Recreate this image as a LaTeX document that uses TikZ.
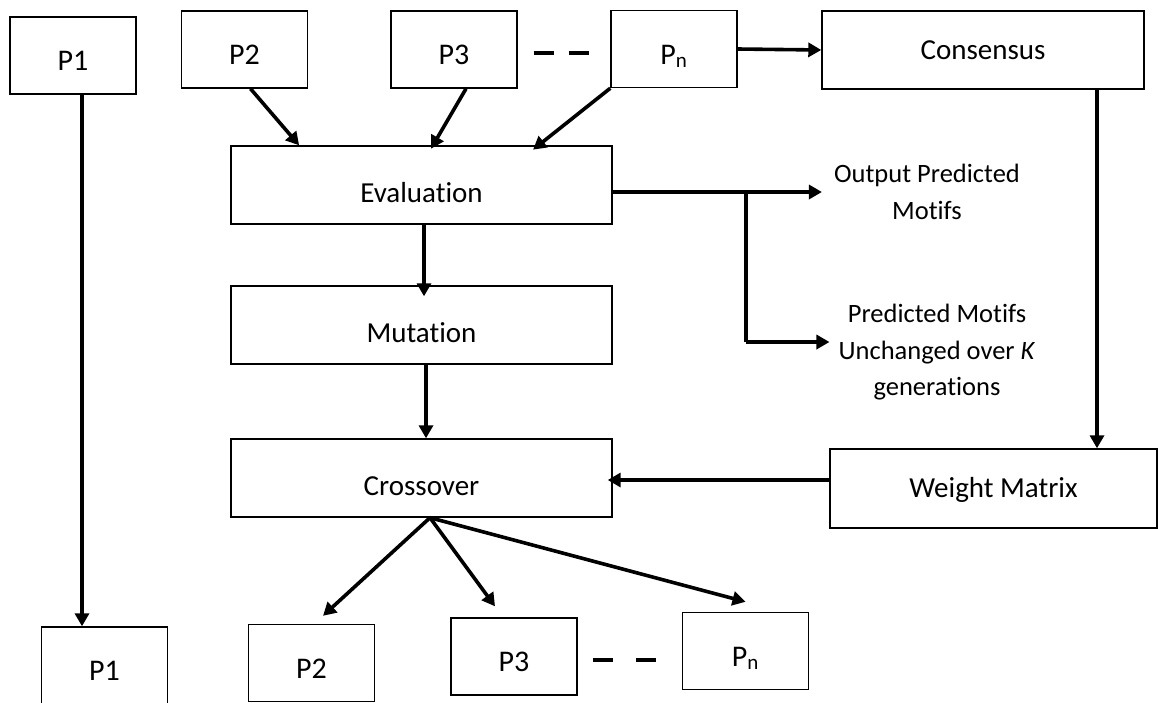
\documentclass[tikz,border=0pt]{standalone}
\usepackage{fontspec}
\setmainfont{Carlito}[Ligatures=NoCommon]
\usetikzlibrary{arrows.meta}
\usetikzlibrary{calc}

\tikzset{
  pbox/.style={draw, line width=1.4pt, inner sep=0pt, minimum width=126pt, minimum height=77pt, text height=30pt, text depth=0pt, font=\fontsize{30}{36}\selectfont},
  stage/.style={draw, line width=1.4pt, inner sep=0pt, minimum width=381pt, minimum height=78pt, text height=35pt, text depth=0pt, font=\fontsize{29}{35}\selectfont},
  side/.style={draw, line width=1.4pt, inner sep=0pt, minimum width=322pt, minimum height=78pt, text height=18pt, text depth=0pt, font=\fontsize{29}{35}\selectfont},
  note/.style={inner sep=0pt, align=center, font=\fontsize{26.5}{36.5}\selectfont},
  arr/.style={line width=3.6pt, -{Triangle[length=13pt,width=14pt]}},
  dots/.style={line width=4.5pt, dash pattern=on 20pt off 15pt},
}

\begin{document}
\begin{tikzpicture}[x=1pt, y=-1pt]
    \useasboundingbox (0,0) rectangle (1158,702);

    \node[pbox] (P1t) at (73,55.5) {P1};
    \node[pbox] (P2t) at (244.5,49.5) {P2};
    \node[pbox] (P3t) at (454,49.5) {P3};
    \node[pbox] (Pnt) at (674,49) {P\textsubscript{n}};
    \node[side] (cons) at (983,50) {Consensus};

    \node[stage] (eval) at (421.5,185) {Evaluation};
    \node[stage] (mut) at (421.5,325) {Mutation};
    \node[stage] (cross) at (421.5,478) {Crossover};
    \node[side, minimum width=327pt, minimum height=79pt, text height=17pt] (wm) at (993.5,488.5) {Weight Matrix};

    \node[note, anchor=north] (outA) at (927,164) {Output Predicted\\Motifs};
    \node[note, anchor=north] (outB) at (937,304) {Predicted Motifs\\Unchanged over \textit{K}\\generations};

    \node[pbox] (P1b) at (104.5,665.5) {P1};
    \node[pbox] (P2b) at (311.5,663) {P2};
    \node[pbox] (P3b) at (514,656.5) {P3};
    \node[pbox] (Pnb) at (745.5,651) {P\textsubscript{n}};

    \coordinate (c1) at (82,0);
    \coordinate (c2) at (1097,0);
    \coordinate (c3) at (0,480);
    \coordinate (br) at (746,192);
    \coordinate (br2) at (746,342);
    \coordinate (cx) at ([xshift=8.5pt]cross.south);

    \draw[arr] (P1t.south -| c1) -- (P1b.north -| c1);
    \draw[arr] ([xshift=6pt]P2t.south) -- ($(eval.north west)!0.18!(eval.north east)$);
    \draw[arr, shorten >=-4pt] ([xshift=12pt]P3t.south) -- ($(eval.north west)!0.53!(eval.north east)$);
    \draw[arr, shorten >=-7pt] (Pnt.south west) -- ($(eval.north west)!0.806!(eval.north east)$);
    \draw[arr] (Pnt.east) -- (cons.west);
    \draw[dots] ([xshift=16pt,yshift=-3.5pt]P3t.east) -- ++(55,0);

    \draw[arr] (cons.south -| c2) -- (wm.north -| c2);
    \draw[arr, shorten >=-5pt] (wm.west |- c3) -- (cross.east |- c3);

    \draw[arr, shorten >=-11pt] ([xshift=2.5pt]eval.south) -- ([xshift=2.5pt]mut.north);
    \draw[arr] ([xshift=4.5pt]mut.south) -- ([xshift=4.5pt]cross.north);

    \draw[arr, line width=4.2pt, shorten >=12pt] (eval.east |- br) -- (outA.west |- br);
    \draw[line width=4.2pt] (br) -- (br2);
    \draw[arr, line width=4.2pt, shorten >=9pt] (br2) -- (br2 -| outB.west);

    \draw[arr] (cx) -- ([xshift=11.5pt,yshift=8pt]P2b.north);
    \draw[arr] (cx) -- ([xshift=-19pt,yshift=11pt]P3b.north);
    \draw[arr] (cx) -- ([yshift=10pt]Pnb.north);
    \draw[dots, dash pattern=on 20pt off 23pt] ([xshift=15pt,yshift=-3.5pt]P3b.east) -- ++(63,0);
\end{tikzpicture}
\end{document}
